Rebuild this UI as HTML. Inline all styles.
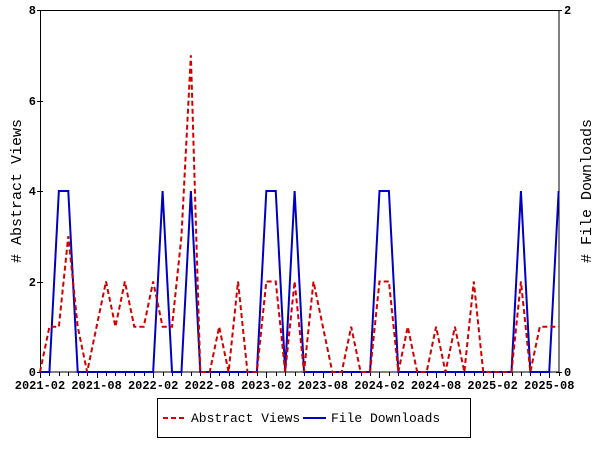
<!DOCTYPE html>
<html><head><meta charset="utf-8"><style>
body{margin:0;background:#fff;width:600px;height:450px;overflow:hidden}
text{font-family:"Liberation Mono",monospace;fill:#000}
.b{font-weight:bold}
</style></head><body>
<svg width="600" height="450" xmlns="http://www.w3.org/2000/svg">
<g id="ticks" stroke="#000" stroke-width="1"></g>
<rect x="40.5" y="10.5" width="518.5" height="361.5" fill="none" stroke="#000"/>
<g font-size="12" text-anchor="end" class="b">
<text class="b" x="36" y="376">0</text><text class="b" x="36" y="286">2</text><text class="b" x="36" y="195">4</text><text class="b" x="36" y="105">6</text><text class="b" x="36" y="14">8</text>
</g>
<g font-size="12"><text class="b" x="564" y="376">0</text><text class="b" x="564" y="14">2</text></g>
<g font-size="12" text-anchor="middle" id="xl"></g>
<text font-size="15" transform="translate(21,191) rotate(-90)" text-anchor="middle"># Abstract Views</text>
<text font-size="15" transform="translate(591,191) rotate(-90)" text-anchor="middle"># File Downloads</text>
<polyline id="dl" fill="none" stroke="#0000c0" stroke-width="2"/>
<polyline id="av" fill="none" stroke="#d00000" stroke-width="2" stroke-dasharray="5,3"/>
<rect x="157.5" y="398.5" width="313" height="39" fill="#fff" stroke="#000"/>
<line x1="163" y1="418" x2="186" y2="418" stroke="#d00000" stroke-width="2" stroke-dasharray="5,3"/>
<text x="191" y="422" font-size="13">Abstract Views</text>
<line x1="303" y1="418" x2="326" y2="418" stroke="#0000c0" stroke-width="2"/>
<text x="331" y="422" font-size="13">File Downloads</text>
</svg>
<script>
var av=[0,1,1,3,1,0,1,2,1,2,1,1,2,1,1,3,7,0,0,1,0,2,0,0,2,2,0,2,0,2,1,0,0,1,0,0,2,2,0,1,0,0,1,0,1,0,2,0,0,0,0,2,0,1,1,1];
var dl=new Array(56).fill(0);[2,3,13,16,24,25,27,36,37,51,55].forEach(function(i){dl[i]=4});
function X(i){return 40+i*9.43}function Y(v){return 372-v*45.25}
document.getElementById('av').setAttribute('points',av.map(function(v,i){return X(i)+','+Y(v)}).join(' '));
document.getElementById('dl').setAttribute('points',dl.map(function(v,i){return X(i)+','+Y(v)}).join(' '));
var t='',l='',labs=['2021-02','2021-08','2022-02','2022-08','2023-02','2023-08','2024-02','2024-08','2025-02','2025-08'];
for(var i=0;i<56;i++){var x=Math.round(X(i))+0.5;t+='<line x1="'+x+'" y1="372" x2="'+x+'" y2="'+(i%6==0?378:376)+'"/>';}
for(var k=0;k<=8;k+=2){var y=Math.round(Y(k))+0.5;t+='<line x1="37" y1="'+y+'" x2="43" y2="'+y+'"/>';}
t+='<line x1="556" y1="372.5" x2="562" y2="372.5"/><line x1="556" y1="10.5" x2="562" y2="10.5"/>';
labs.forEach(function(s,j){l+='<text class="b" x="'+X(j*6)+'" y="389">'+s+'</text>'});
document.getElementById('ticks').innerHTML=t;document.getElementById('xl').innerHTML=l;
</script>
</body></html>
